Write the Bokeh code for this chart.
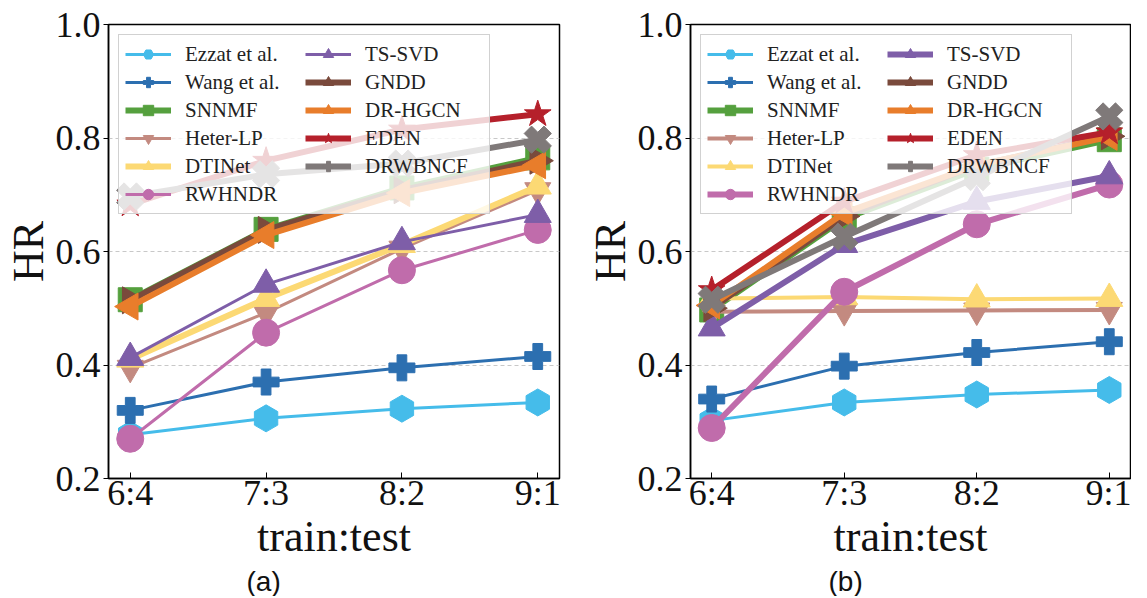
import numpy as np
from bokeh.plotting import figure
from bokeh.layouts import row
from bokeh.models import (Range1d, FixedTicker, PrintfTickFormatter, Legend, LegendItem, Title)
from bokeh.embed import file_html
from bokeh.resources import INLINE

# ---------------- data ----------------
ratios = ["6:4", "7:3", "8:2", "9:1"]
methods = ["Ezzat et al.", "Wang et al.", "SNNMF", "Heter-LP", "DTINet", "RWHNDR",
           "TS-SVD", "GNDD", "DR-HGCN", "EDEN", "DRWBNCF"]

# panel (a)
ezzat_a = [0.277, 0.306, 0.323, 0.334]
wang_a = [0.320, 0.370, 0.395, 0.415]
snnmf_a = [0.515, 0.639, 0.712, 0.765]
heter_a = [0.395, 0.492, 0.605, 0.708]
dtinet_a = [0.410, 0.517, 0.612, 0.715]
rwhndr_a = [0.270, 0.457, 0.567, 0.638]
tssvd_a = [0.413, 0.542, 0.617, 0.665]
gndd_a = [0.514, 0.638, 0.708, 0.760]
drhgcn_a = [0.503, 0.629, 0.703, 0.752]
eden_a = [0.683, 0.760, 0.815, 0.842]
drwbncf_a = [0.697, 0.736, 0.755, 0.797]

# panel (b)
ezzat_b = [0.302, 0.334, 0.348, 0.356]
wang_b = [0.340, 0.398, 0.422, 0.441]
snnmf_b = [0.497, 0.658, 0.745, 0.797]
heter_b = [0.494, 0.495, 0.496, 0.497]
dtinet_b = [0.517, 0.520, 0.516, 0.517]
rwhndr_b = [0.289, 0.529, 0.648, 0.718]
tssvd_b = [0.465, 0.612, 0.688, 0.733]
gndd_b = [0.500, 0.662, 0.752, 0.803]
drhgcn_b = [0.505, 0.668, 0.752, 0.802]
eden_b = [0.532, 0.688, 0.770, 0.810]
drwbncf_b = [0.515, 0.626, 0.731, 0.838]

series_a = [ezzat_a, wang_a, snnmf_a, heter_a, dtinet_a, rwhndr_a, tssvd_a, gndd_a, drhgcn_a, eden_a, drwbncf_a]
series_b = [ezzat_b, wang_b, snnmf_b, heter_b, dtinet_b, rwhndr_b, tssvd_b, gndd_b, drhgcn_b, eden_b, drwbncf_b]

# ---------------- styles ----------------
colors = ["#45BCEA", "#2C6FB0", "#55A03E", "#C38A80", "#FCD974", "#C06CAB",
          "#7E5EA8", "#7A4A3C", "#E87D2B", "#B5202B", "#7F7979"]
markers = ["hex", "plus", "square", "inverted_triangle", "triangle", "circle",
           "triangle", "triangle", "triangle", "star", "plus"]
angles = [np.pi / 6, 0, 0, 0, 0, 0, 0, -np.pi / 2, np.pi / 2, 0, np.pi / 4]
sizes = [27, 26, 24, 26, 27, 27, 27, 27, 27, 28, 28]
widths_a = [3, 3, 6, 3, 6, 3, 3, 6, 6, 6, 6]
widths_b = [3, 3, 6, 4, 4, 6, 6, 6, 6, 6, 6]

SERIF = "'Liberation Serif', 'Times New Roman', Times, serif"
SANS = "'Liberation Sans', Arial, sans-serif"
W1, W2, H = 582, 549, 596


def make_panel(series, widths, width, border_right, caption):
    p = figure(width=width, height=H, x_range=Range1d(-0.16, 3.16), y_range=Range1d(0.2, 1.0),
               output_backend="svg", toolbar_location=None,
               min_border_left=100, min_border_right=border_right,
               min_border_top=24, min_border_bottom=112)
    p.background_fill_color = "white"
    p.border_fill_color = "white"
    p.outline_line_color = "black"
    p.outline_line_width = 1.5

    xs = list(range(len(ratios)))
    items = []
    for name, ys, col, mk, ang, sz, lw in zip(methods, series, colors, markers, angles, sizes, widths):
        lr = p.line(xs, ys, line_color=col, line_width=lw)
        sr = p.scatter(xs, ys, marker=mk, angle=ang, size=sz, fill_color=col, line_color=col)
        items.append(LegendItem(label=name, renderers=[lr, sr]))

    legend = Legend(items=items, location="top_left", orientation="vertical", nrows=6,
                    margin=10, padding=6, spacing=2, glyph_width=46, glyph_height=26,
                    label_height=26, label_width=118, label_standoff=14,
                    label_text_font=SERIF, label_text_font_size="21px",
                    label_text_color="#222222",
                    background_fill_color="white", background_fill_alpha=0.8,
                    border_line_color="#cccccc", border_line_alpha=0.9, border_line_width=1)
    p.add_layout(legend, "center")

    # axes
    p.xaxis.ticker = FixedTicker(ticks=xs)
    p.xaxis.major_label_overrides = {i: r for i, r in enumerate(ratios)}
    p.xaxis.axis_label = "train:test"
    p.yaxis.ticker = FixedTicker(ticks=[0.2, 0.4, 0.6, 0.8, 1.0])
    p.yaxis.formatter = PrintfTickFormatter(format="%.1f")
    p.yaxis.axis_label = "HR"
    for ax in (p.xaxis[0], p.yaxis[0]):
        ax.major_label_text_font = SERIF
        ax.major_label_text_font_size = "36px"
        ax.major_label_text_color = "#111111"
        ax.axis_label_text_font = SERIF
        ax.axis_label_text_font_size = "44px"
        ax.axis_label_text_font_style = "normal"
        ax.axis_label_text_color = "#111111"
        ax.axis_line_color = "black"
        ax.axis_line_width = 1.5
        ax.major_tick_line_color = "black"
        ax.minor_tick_line_color = None
    p.xaxis.major_tick_in = 6
    p.xaxis.major_tick_out = 0
    p.xaxis.major_label_standoff = -6
    p.xaxis.axis_label_standoff = -4
    p.yaxis.major_tick_in = 0
    p.yaxis.major_tick_out = 5
    p.yaxis.major_label_standoff = 3
    p.yaxis.axis_label_standoff = 0

    p.xgrid.visible = False
    p.ygrid.grid_line_color = "#c8c8c8"
    p.ygrid.grid_line_dash = "4 3"
    p.ygrid.grid_line_width = 1

    # sub-figure caption below the x-axis label
    cap = Title(text=caption, align="left", offset=138, standoff=0,
                text_font=SANS, text_font_size="28px", text_font_style="normal",
                text_color="#111111")
    p.add_layout(cap, "below")
    return p


p1 = make_panel(series_a, widths_a, W1, 23, "(a)")
p2 = make_panel(series_b, widths_b, W2, 1, "(b)")
layout = row(p1, p2)

open("out.html", "w").write(file_html(layout, INLINE))
